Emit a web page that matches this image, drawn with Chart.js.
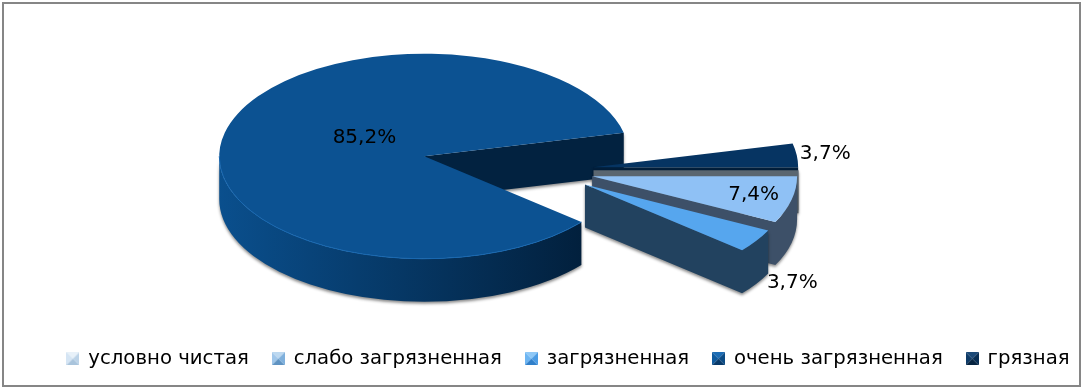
<!DOCTYPE html>
<html lang="ru">
<head>
<meta charset="utf-8">
<title>Pie 3D</title>
<script src="https://cdn.jsdelivr.net/npm/chart.js@4"></script>
<style>
html, body { margin: 0; padding: 0; background: #fff; overflow: hidden; }
#wrap { position: relative; width: 1083px; height: 389px; }
#frame { position: absolute; left: 2px; top: 2px; width: 1075px; height: 381px; border: 2px solid #868686; }
</style>
</head>
<body>
<div id="wrap">
	<canvas id="chartPie" width="1083" height="389"></canvas>
	<div id="frame"></div>
</div>
<script>
// data
const categories = ['условно чистая', 'слабо загрязненная', 'загрязненная', 'очень загрязненная', 'грязная'];
const values = [0, 7.4, 3.7, 85.2, 3.7];

// colours
const topColors = ['#c9dff2', '#8fc1f5', '#56a6ee', '#0c5292', '#063462'];
const wallColors = ['#5a6670', '#3d5068', '#22425f', '#022240', '#021e3a'];
const swatchColors = [
	['#e8f1f9', '#d5e5f4', '#a9c4dc', '#bcd3e8'],
	['#bcd8f0', '#9fc6ea', '#5f93c2', '#7fb0dc'],
	['#8ec8f7', '#6db5f2', '#2f7fca', '#4a9be4'],
	['#1c6cb4', '#0f5a9e', '#083a6a', '#0b4b84'],
	['#1c4a78', '#0d3a66', '#052340', '#082e54']
];

// 3d look
const tilt = 0.5;
const depth = 43;
const pieRadius = 205;
const explode = [52, 52, 52, 120.5, 52];
const wallOrder = [3, 4, 0, 1, 2];
const labelRadius = [0, 0.81, 1.21, 0.3, 1.14];
const labelShift = [0, 0, 30, -11, 0];
const fontName = '"DejaVu Sans"';
const labelFontSize = 20;
const legendFontSize = 19.7;
const legendShiftX = 27;

function makeSwatch(c) {
	const s = 13;
	const cv = document.createElement('canvas');
	cv.width = s; cv.height = s;
	const g = cv.getContext('2d');
	const tri = [[0, 0, s, 0], [0, 0, 0, s], [0, s, s, s], [s, 0, s, s]];
	tri.forEach(function (t, i) {
		g.fillStyle = c[i];
		g.beginPath();
		g.moveTo(t[0], t[1]);
		g.lineTo(t[2], t[3]);
		g.lineTo(s / 2, s / 2);
		g.closePath();
		g.fill();
	});
	return cv;
}

function apex(arc, i) {
	const half = (arc.startAngle + arc.endAngle) / 2;
	return {
		half: half,
		x: arc.x + explode[i] * Math.cos(half),
		y: arc.y + explode[i] * Math.sin(half) * tilt
	};
}

function drawWalls(ctx, arc, i) {
	const p = apex(arc, i);
	const r = arc.outerRadius;
	const big = values[i] > 50;
	ctx.save();
	ctx.shadowColor = 'rgba(0,0,0,0.45)';
	ctx.shadowBlur = 3;
	ctx.shadowOffsetY = 2;
	ctx.fillStyle = wallColors[i];
	ctx.beginPath();

	// flat cut, only the one turned to the viewer
	const cut = Math.cos(arc.endAngle) >= 0 ? arc.endAngle : (Math.cos(arc.startAngle) < 0 ? arc.startAngle : null);
	if (cut !== null) {
		const ex = p.x + r * Math.cos(cut);
		const ey = p.y + r * Math.sin(cut) * tilt;
		ctx.moveTo(p.x, p.y);
		ctx.lineTo(ex, ey);
		ctx.lineTo(ex, ey + depth);
		ctx.lineTo(p.x, p.y + depth);
		ctx.closePath();
	}

	// big slice has a gradient round side so it gets its own fill
	if (big) {
		ctx.fill();
		ctx.beginPath();
	}

	// round side, front half only
	const from = Math.max(arc.startAngle, 0);
	const to = Math.min(arc.endAngle, Math.PI);
	if (from < to) {
		if (big) {
			const grad = ctx.createLinearGradient(p.x - r, 0, p.x + r * Math.cos(from), 0);
			grad.addColorStop(0, '#0a4f8d');
			grad.addColorStop(1, '#02203d');
			ctx.fillStyle = grad;
		}
		ctx.moveTo(p.x + r * Math.cos(from), p.y + r * Math.sin(from) * tilt);
		ctx.ellipse(p.x, p.y, r, r * tilt, 0, from, to);
		ctx.ellipse(p.x, p.y + depth, r, r * tilt, 0, to, from, true);
		ctx.closePath();
	}
	ctx.fill();
	ctx.restore();
}

function drawTop(ctx, arc, i) {
	const p = apex(arc, i);
	ctx.save();
	ctx.translate(p.x, p.y);
	ctx.scale(1, tilt);
	ctx.translate(-arc.x, -arc.y);
	arc.draw(ctx);
	ctx.restore();
	if (values[i] > 50) {
		ctx.save();
		ctx.strokeStyle = '#1767b0';
		ctx.lineWidth = 1;
		ctx.beginPath();
		ctx.ellipse(p.x, p.y, arc.outerRadius, arc.outerRadius * tilt, 0, arc.startAngle, Math.PI);
		ctx.stroke();
		ctx.restore();
	}
}

function drawLabel(ctx, arc, i) {
	if (!values[i]) return;
	const p = apex(arc, i);
	const r = arc.outerRadius * labelRadius[i];
	ctx.save();
	ctx.fillStyle = '#000';
	ctx.font = labelFontSize + 'px ' + fontName;
	ctx.textAlign = 'center';
	ctx.textBaseline = 'middle';
	const txt = values[i].toFixed(1).replace('.', ',') + '%';
	ctx.fillText(txt, p.x + r * Math.cos(p.half), p.y + r * Math.sin(p.half) * tilt + labelShift[i]);
	ctx.restore();
}

const pie3d = {
	id: 'pie3d',
	afterLayout: function (chart) {
		// legend sits right of the middle in the original
		chart.legend.left += legendShiftX;
		chart.legend.right += legendShiftX;
	},
	beforeDatasetDraw: function (chart, args) {
		const ctx = chart.ctx;
		const arcs = args.meta.data;
		wallOrder.forEach(function (i) { drawWalls(ctx, arcs[i], i); });
		arcs.forEach(function (arc, i) { drawTop(ctx, arc, i); });
		arcs.forEach(function (arc, i) { drawLabel(ctx, arc, i); });
		return false;
	}
};

new Chart(document.getElementById('chartPie').getContext('2d'), {
	type: 'pie',
	data: {
		labels: categories,
		datasets: [{
			data: values,
			backgroundColor: topColors,
			borderWidth: 0
		}]
	},
	options: {
		responsive: false,
		animation: false,
		rotation: 90,
		radius: pieRadius,
		layout: { padding: { top: 15.5, bottom: 10.5 } },
		plugins: {
			tooltip: { enabled: false },
			legend: {
				position: 'bottom',
				labels: {
					usePointStyle: true,
					pointStyleWidth: 11,
					padding: 24,
					color: '#000',
					font: { family: fontName, size: legendFontSize },
					generateLabels: function (chart) {
						return categories.map(function (c, i) {
							return { text: c, index: i, pointStyle: makeSwatch(swatchColors[i]), lineWidth: 0, fontColor: '#000', hidden: false };
						});
					}
				}
			}
		}
	},
	plugins: [pie3d]
});
</script>
</body>
</html>
